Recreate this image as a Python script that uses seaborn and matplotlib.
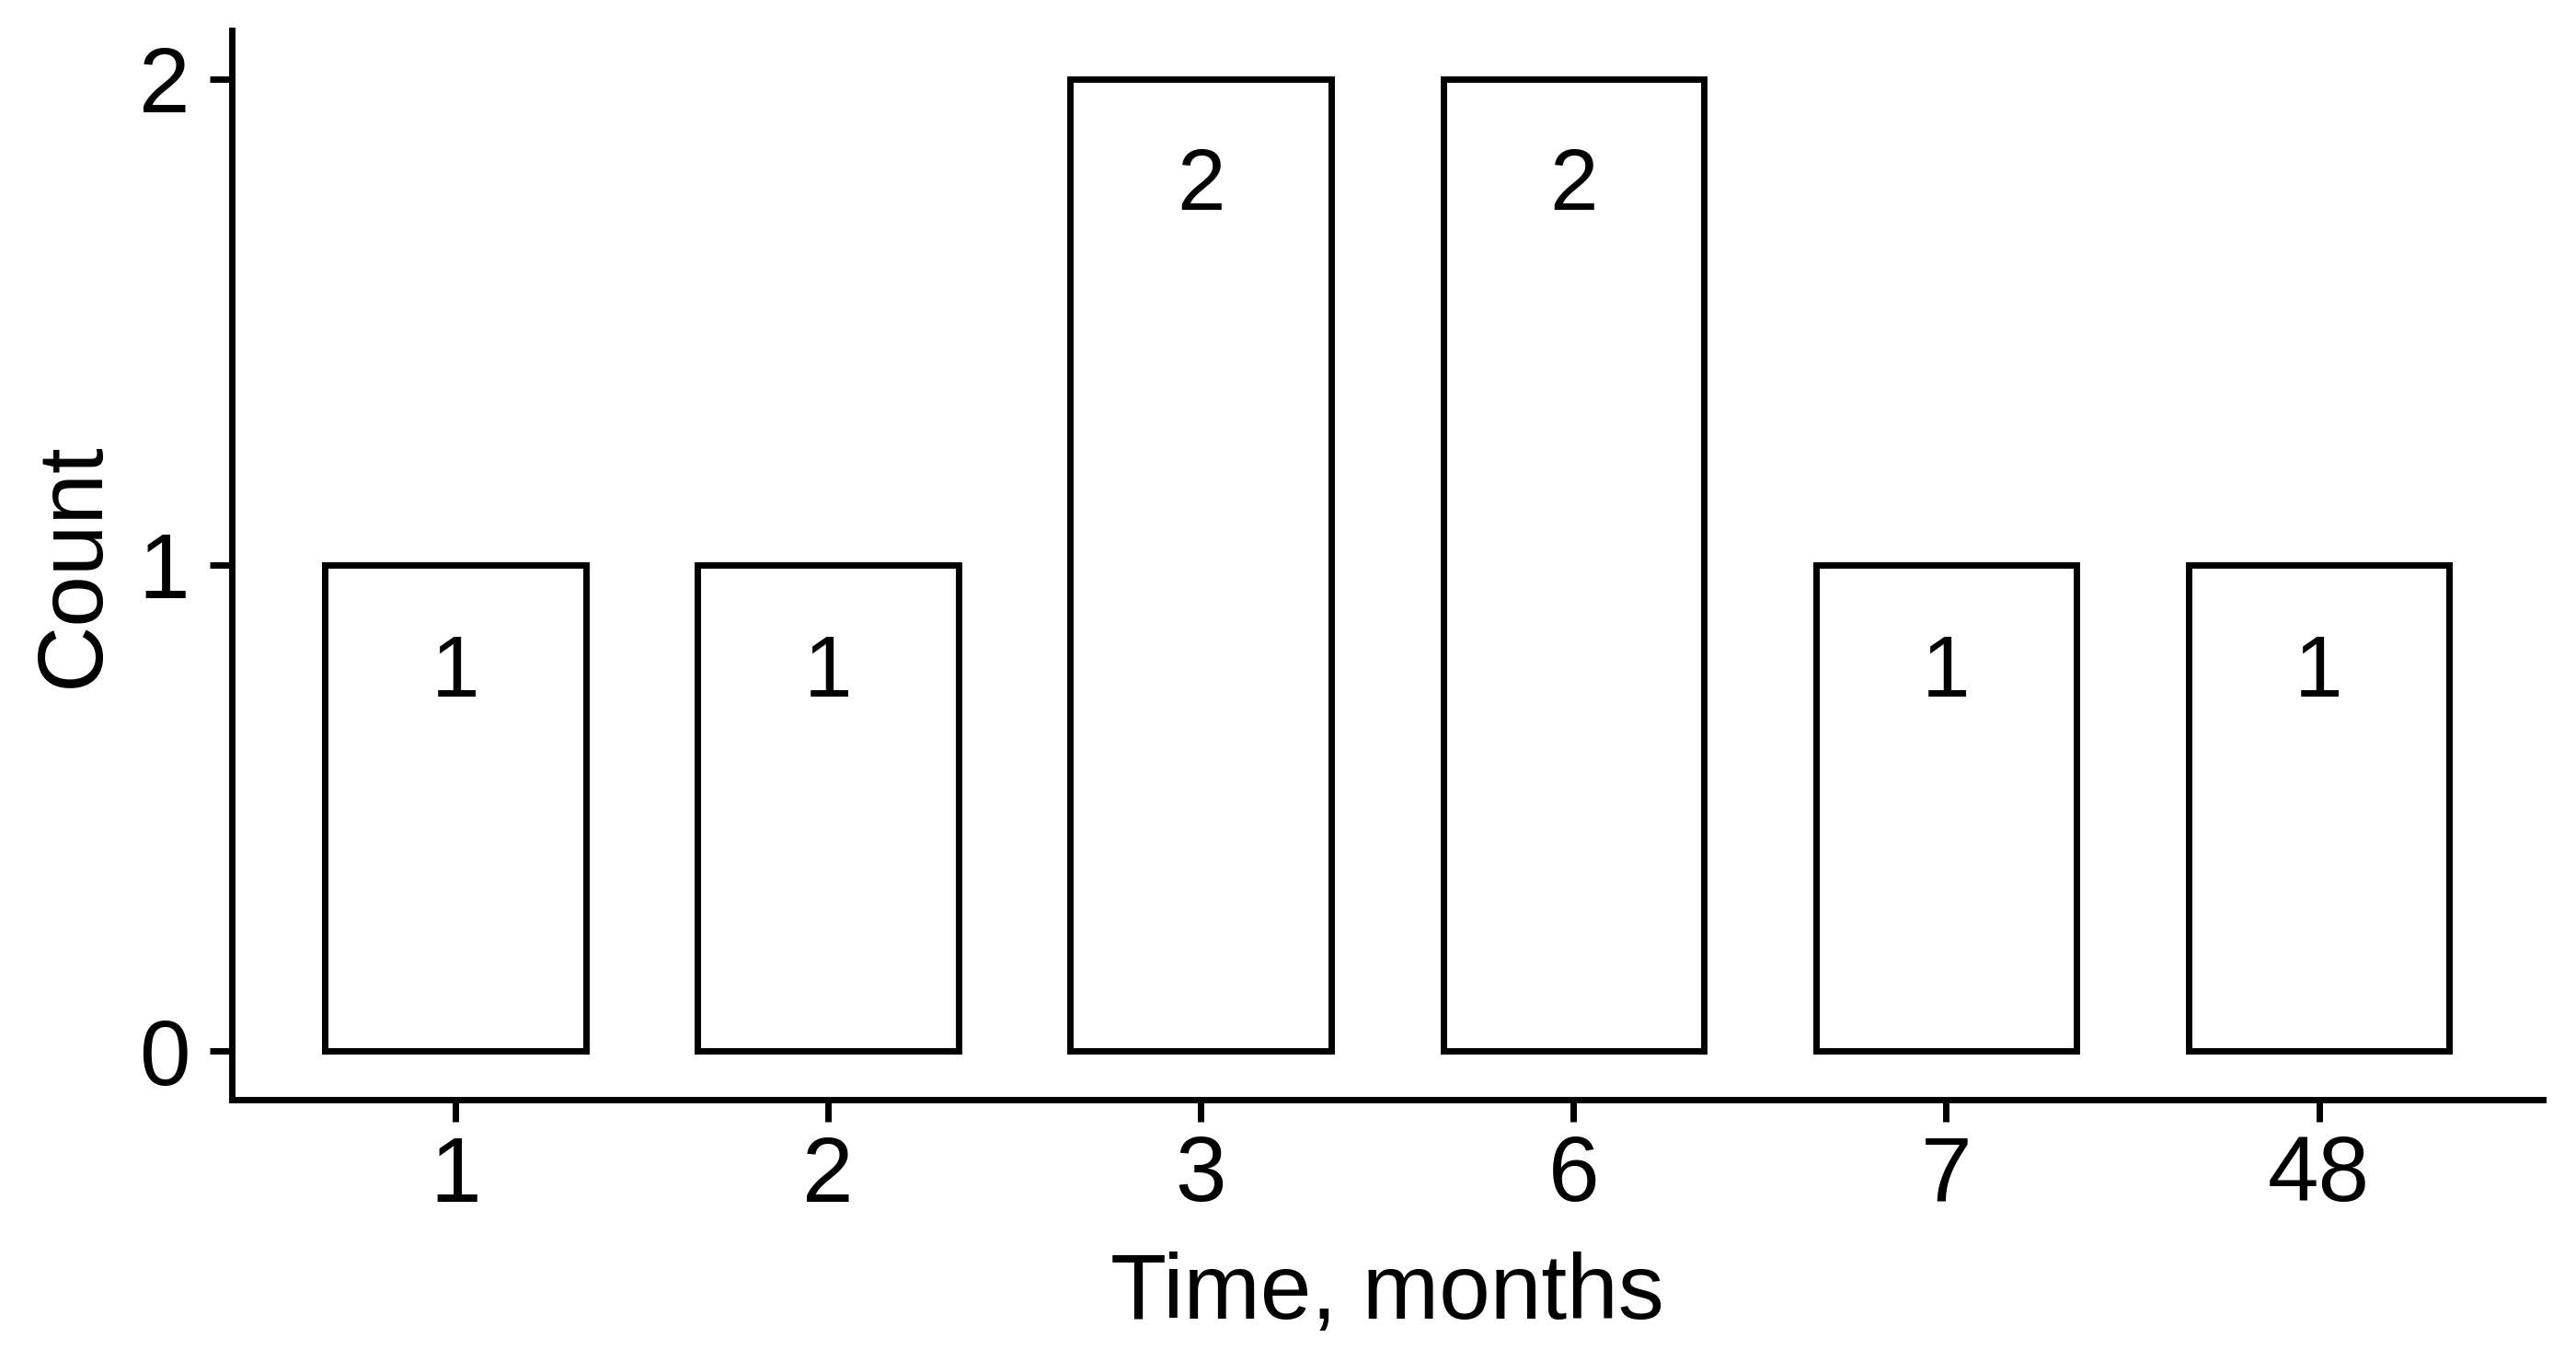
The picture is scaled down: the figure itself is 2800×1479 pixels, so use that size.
import matplotlib
matplotlib.use("Agg")
import matplotlib.pyplot as plt
import seaborn as sns
import pandas as pd

# data
months = ["1", "2", "3", "6", "7", "48"]
counts = [1, 1, 2, 2, 1, 1]

sns.set_theme(style="ticks")
plt.rcParams['font.family'] = ['Liberation Sans', 'DejaVu Sans']

df = pd.DataFrame({"month": months, "count": counts})

fig = plt.figure(figsize=(28, 14.79), dpi=100)
ax = fig.add_axes([0.09, 1 - 1195 / 1479, 0.897, (1195 - 33) / 1479])

sns.barplot(data=df, x="month", y="count", order=months, color="white",
            saturation=1, edgecolor="black", linewidth=5, width=0.7, ax=ax)

# counts written inside each bar, just below its top
for i, c in enumerate(counts):
    ax.text(i, c - 0.27, str(c), ha="center", va="baseline", fontsize=68, color="black")

ax.set_ylim(-0.1, 2.1)
ax.set_xlim(-0.6, len(months) - 0.4)
ax.set_yticks([0, 1, 2])
ax.set_xlabel("Time, months", fontsize=72, labelpad=24, color="black")
ax.set_ylabel("Count", fontsize=72, labelpad=16, color="black")

ax.tick_params(axis="both", length=17, width=5, color="black", labelsize=72, labelcolor="black")
ax.tick_params(axis="x", pad=10)
ax.tick_params(axis="y", pad=16)

for side in ["top", "right"]:
    ax.spines[side].set_visible(False)
for side in ["left", "bottom"]:
    ax.spines[side].set_linewidth(5)
    ax.spines[side].set_color("black")

fig.savefig("out.png", dpi=100)
